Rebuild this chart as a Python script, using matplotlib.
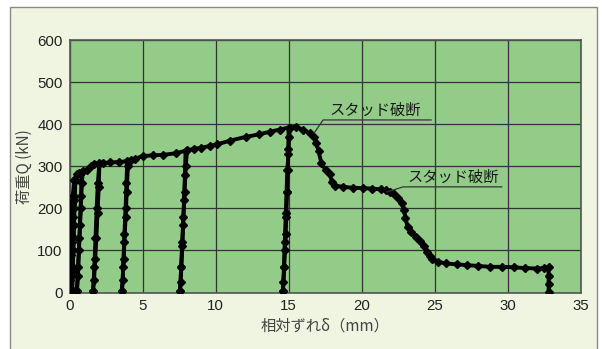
import matplotlib
matplotlib.use('Agg')
import matplotlib.pyplot as plt
from matplotlib.patches import Rectangle

plt.rcParams['font.family'] = ['Liberation Sans', 'Noto Sans CJK JP', 'DejaVu Sans']

# load history: slip (mm), load (kN)
cycle1_x = [0.00, 0.02, 0.05, 0.08, 0.06, 0.03, 0.00]
cycle1_y = [2, 50, 100, 130, 80, 30, 3]
cycle2_x = [0.00, 0.04, 0.08, 0.12, 0.16, 0.12, 0.08, 0.04, 0.02]
cycle2_y = [3, 60, 120, 170, 210, 150, 90, 40, 4]
cycle3_x = [0.02, 0.06, 0.12, 0.18, 0.24, 0.32, 0.28, 0.22, 0.16, 0.10, 0.06]
cycle3_y = [4, 60, 120, 180, 230, 268, 220, 160, 100, 40, 5]
cycle3b_x = [0.06, 0.12, 0.18, 0.24, 0.30, 0.36, 0.34, 0.30, 0.26, 0.22, 0.18]
cycle3b_y = [5, 60, 120, 180, 230, 270, 220, 160, 100, 50, 6]
cycle4_x = [0.18, 0.22, 0.28, 0.34, 0.40, 0.50, 0.65, 0.85, 0.80, 0.72, 0.64, 0.56, 0.50]
cycle4_y = [6, 60, 130, 200, 265, 282, 285, 287, 230, 160, 100, 40, 4]
cycle5_x = [0.52, 0.60, 0.68, 0.76, 0.84, 0.92, 1.20, 1.45, 1.70, 2.05,
            2.00, 1.92, 1.84, 1.76, 1.68, 1.60]
cycle5_y = [4, 60, 130, 200, 260, 288, 291, 300, 305, 307,
            250, 190, 130, 80, 30, 4]
cycle6_x = [1.62, 1.70, 1.78, 1.86, 1.94, 2.04, 2.30, 2.80, 3.40, 3.95,
            3.90, 3.84, 3.76, 3.70, 3.64, 3.58]
cycle6_y = [4, 60, 130, 200, 260, 305, 308, 309, 310, 312,
            260, 200, 140, 80, 30, 4]
cycle7_x = [3.60, 3.68, 3.76, 3.84, 3.92, 4.00, 4.20, 4.50, 5.00, 5.70, 6.40, 7.30, 7.95,
            7.90, 7.84, 7.78, 7.72, 7.66, 7.60, 7.55]
cycle7_y = [4, 60, 120, 180, 240, 300, 314, 318, 324, 326, 327, 331, 337,
            280, 220, 160, 110, 60, 25, 4]
cycle8_x = [7.58, 7.64, 7.72, 7.80, 7.88, 7.96, 8.05, 8.50, 9.00, 9.60, 10.1, 11.0, 12.1, 13.0,
            13.7, 14.4, 15.0,
            14.98, 14.95, 14.90, 14.85, 14.80, 14.75, 14.70, 14.65, 14.60]
cycle8_y = [4, 60, 120, 180, 240, 300, 338, 341, 344, 348, 352, 361, 370, 376,
            382, 387, 392,
            340, 290, 240, 190, 140, 100, 60, 25, 4]
final_x = [14.62, 14.68, 14.74, 14.80, 14.86, 14.92, 14.98, 15.04, 15.10, 15.50,
           16.00, 16.50, 16.75, 16.90, 17.05, 17.25, 17.55, 17.85, 17.95, 18.20,
           18.75, 19.40, 20.10, 20.70, 21.30, 21.70, 21.95, 22.25, 22.50, 22.75,
           22.90, 23.00, 23.15, 23.40, 23.70, 24.00, 24.25, 24.45, 24.65, 24.80,
           25.20, 25.80, 26.50, 27.20, 28.00, 28.80, 29.60, 30.40, 31.20, 32.00,
           32.50, 32.80, 32.80, 32.80, 32.80]
final_y = [4, 60, 120, 180, 240, 290, 330, 370, 392, 394,
           386, 378, 370, 355, 336, 307, 290, 282, 262, 254,
           251, 249, 248, 247, 245, 243, 240, 233, 224, 212,
           195, 178, 155, 143, 133, 123, 110, 97, 86, 79,
           73, 69, 67, 65, 63, 61, 61, 60, 58, 57,
           58, 61, 40, 20, 1]

cycles = [(cycle1_x, cycle1_y), (cycle2_x, cycle2_y), (cycle3_x, cycle3_y),
          (cycle3b_x, cycle3b_y), (cycle4_x, cycle4_y), (cycle5_x, cycle5_y),
          (cycle6_x, cycle6_y), (cycle7_x, cycle7_y), (cycle8_x, cycle8_y),
          (final_x, final_y)]

label_text = 'スタッド破断'
x_ticks = [0, 5, 10, 15, 20, 25, 30, 35]
y_ticks = [0, 100, 200, 300, 400, 500, 600]

fig = plt.figure(figsize=(6.02, 3.49), dpi=100)
fig.patch.set_facecolor('white')
fig.patches.append(Rectangle((9.5 / 602, -0.02), 587.5 / 602, 1.0 - 7 / 349 + 0.02,
                             transform=fig.transFigure, facecolor='#f0f5e1',
                             edgecolor='#8a8a8a', linewidth=1.0, zorder=-1))

ax = fig.add_axes([69.5 / 602, 1 - 292.5 / 349, 511.2 / 602, 252.5 / 349])
ax.set_zorder(1)
ax.set_facecolor('#92cc88')

for cx, cy in cycles:
    ax.plot(cx, cy, color='black', lw=2.8, marker='D', ms=3.8, zorder=3)

# スタッド破断 labels with leader lines
ax.plot([16.75, 17.36, 24.76], [379, 410, 410], color='#333333', lw=0.9, zorder=4)
ax.text(20.9, 432, label_text, ha='center', va='center', fontsize=11,
        color='#1a1a1a', family=['Noto Sans CJK JP'], zorder=5)
ax.plot([21.75, 22.84, 29.6], [239, 251, 251], color='#333333', lw=0.9, zorder=4)
ax.text(26.3, 273, label_text, ha='center', va='center', fontsize=11,
        color='#1a1a1a', family=['Noto Sans CJK JP'], zorder=5)

ax.set_xlim(0, 35)
ax.set_ylim(0, 600)
ax.set_xticks(x_ticks)
ax.set_yticks(y_ticks)
ax.grid(True, color='#333333', lw=0.9, zorder=1)
ax.set_axisbelow(True)
ax.tick_params(length=0, labelsize=10.8, colors='#222222', pad=5)
for s in ax.spines.values():
    s.set_color('#555555')
    s.set_linewidth(1.2)

ax.set_xlabel('相対ずれδ（mm）', fontsize=11, color='#444444', labelpad=3,
              family=['Noto Sans CJK JP'])
ax.set_ylabel('荷重Q (kN)', fontsize=11, color='#444444', labelpad=3,
              family=['Noto Sans CJK JP'])

fig.savefig('out.png', dpi=100)
plt.close()
